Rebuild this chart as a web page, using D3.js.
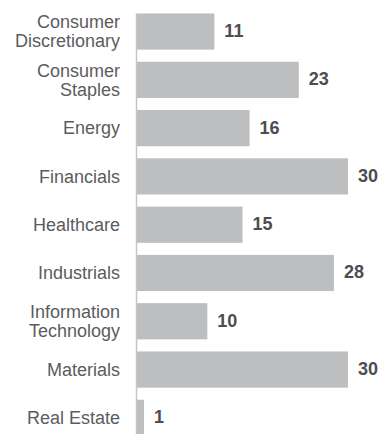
<!DOCTYPE html>
<html lang="en">
<head>
<meta charset="utf-8">
<title>Sectors</title>
<script src="https://cdn.jsdelivr.net/npm/d3@7/dist/d3.min.js"></script>
<style>
  body { margin: 0; background: #fff; }
  svg { display: block; font-family: "Liberation Sans", Arial, Helvetica, sans-serif; }
</style>
</head>
<body>
<script>
var sectors = ["Consumer Discretionary", "Consumer Staples", "Energy", "Financials", "Healthcare",
  "Industrials", "Information Technology", "Materials", "Real Estate"];
var labelLines = [["Consumer", "Discretionary"], ["Consumer", "Staples"], ["Energy"], ["Financials"], ["Healthcare"],
  ["Industrials"], ["Information", "Technology"], ["Materials"], ["Real Estate"]];
var counts = [11, 23, 16, 30, 15, 28, 10, 30, 1];

var W = 382, H = 434;
var x0 = 137;

var svg = d3.select("body").append("svg").attr("width", W).attr("height", H);

var x = d3.scaleLinear().domain([0, 30]).range([x0, 348]);
var y = d3.scaleBand().domain(sectors).range([7.4, 442]).paddingInner(0.25).paddingOuter(0.125);

svg.selectAll("rect.bar")
  .data(sectors)
  .enter().append("rect")
  .attr("class", "bar")
  .attr("x", x(0))
  .attr("y", function (d) { return y(d); })
  .attr("width", function (d, i) { return x(counts[i]) - x(0); })
  .attr("height", y.bandwidth())
  .attr("fill", "#bdbebf");

// axis line
svg.append("line")
  .attr("x1", x0 - 0.5).attr("x2", x0 - 0.5)
  .attr("y1", y(sectors[0])).attr("y2", H)
  .attr("stroke", "#c4c5c6").attr("stroke-width", 1.5);

// value labels
svg.selectAll("text.val")
  .data(sectors)
  .enter().append("text")
  .attr("class", "val")
  .attr("x", function (d, i) { return x(counts[i]) + 10; })
  .attr("y", function (d) { return y(d) + y.bandwidth() / 2; })
  .attr("dy", "0.3em")
  .attr("font-size", 18)
  .attr("font-weight", "bold")
  .attr("fill", "#4d4d4f")
  .text(function (d, i) { return counts[i]; });

// category labels
var lab = svg.selectAll("text.lab")
  .data(sectors)
  .enter().append("text")
  .attr("class", "lab")
  .attr("text-anchor", "end")
  .attr("font-size", 18)
  .attr("fill", "#5b5c5e");

lab.each(function (d, i) {
  var lines = labelLines[i];
  var cy = y(d) + y.bandwidth() / 2;
  var first = cy - (lines.length - 1) * 19 / 2;
  d3.select(this).selectAll("tspan")
    .data(lines)
    .enter().append("tspan")
    .attr("x", 120)
    .attr("y", function (t, j) { return first + j * 19; })
    .attr("dy", "0.35em")
    .text(function (t) { return t; });
});
</script>
</body>
</html>
